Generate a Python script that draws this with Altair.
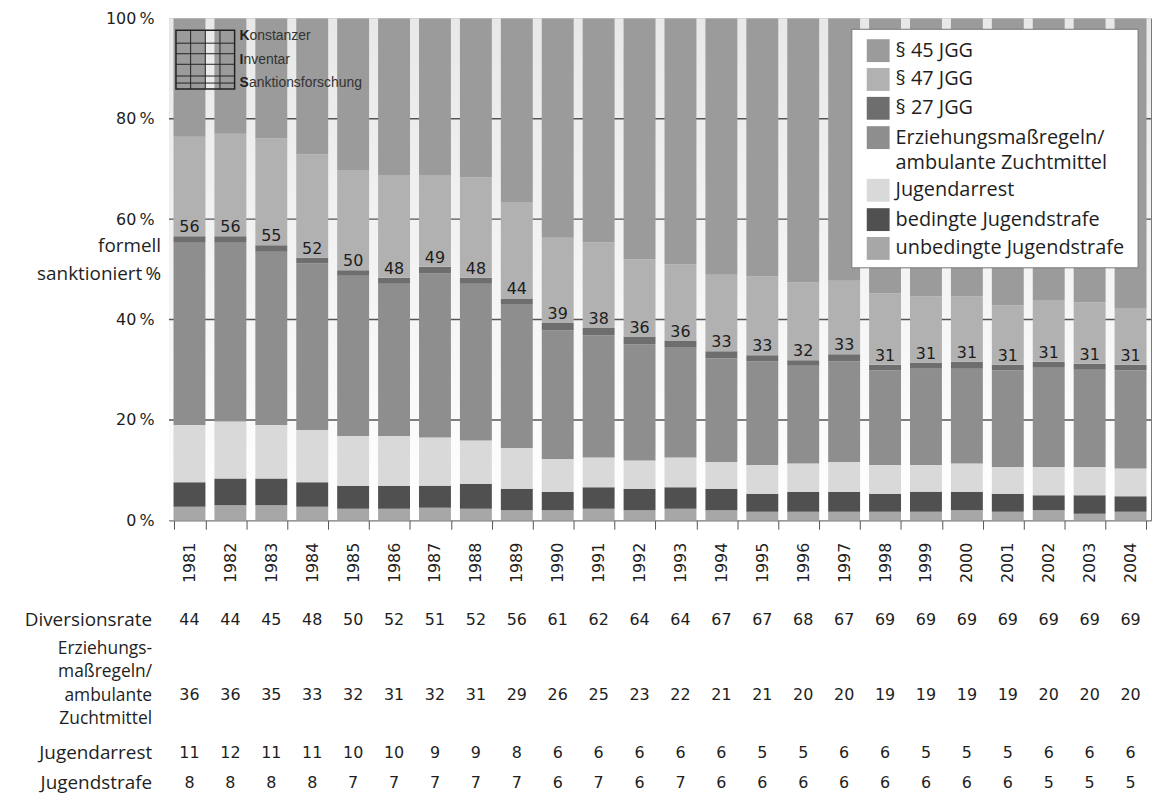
import altair as alt
import pandas as pd

# ---------------- data ----------------
years = list(range(1981, 2005))

cats = ["§ 45 JGG", "§ 47 JGG", "§ 27 JGG",
        "Erziehungsmaßregeln/ambulante Zuchtmittel",
        "Jugendarrest", "bedingte Jugendstrafe", "unbedingte Jugendstrafe"]
legend_text = ["§ 45 JGG", "§ 47 JGG", "§ 27 JGG",
               "Erziehungsmaßregeln/\nambulante Zuchtmittel",
               "Jugendarrest", "bedingte Jugendstrafe", "unbedingte Jugendstrafe"]
colors = ["#9b9b9b", "#b1b1b1", "#6e6e6e", "#8e8e8e", "#d9d9d9", "#505050", "#a7a7a7"]

unbedingte = [2.7, 3.0, 3.0, 2.7, 2.3, 2.3, 2.5, 2.3, 2.0, 2.0, 2.3, 2.0, 2.3, 2.0, 1.7, 1.7, 1.7, 1.7, 1.7, 2.0, 1.7, 2.0, 1.3, 1.7]
bedingte = [4.9, 5.3, 5.3, 4.9, 4.6, 4.6, 4.4, 5.0, 4.3, 3.7, 4.3, 4.3, 4.3, 4.3, 3.6, 4.0, 4.0, 3.6, 4.0, 3.7, 3.6, 3.0, 3.7, 3.1]
arrest = [11.4, 11.4, 10.7, 10.4, 9.9, 9.9, 9.6, 8.6, 8.1, 6.5, 5.9, 5.6, 5.9, 5.3, 5.7, 5.6, 5.9, 5.7, 5.3, 5.6, 5.3, 5.6, 5.6, 5.5]
erziehung = [36.3, 35.6, 34.5, 33.2, 31.9, 30.3, 32.7, 31.2, 28.7, 25.6, 24.3, 23.1, 22.0, 20.7, 20.7, 19.5, 20.1, 18.9, 19.2, 18.9, 19.3, 19.8, 19.4, 19.6]
p27 = [1.3, 1.3, 1.3, 1.1, 1.1, 1.2, 1.3, 1.2, 1.1, 1.5, 1.5, 1.6, 1.3, 1.4, 1.2, 1.1, 1.4, 1.1, 1.2, 1.4, 1.1, 1.2, 1.2, 1.1]
p47 = [19.8, 20.4, 21.3, 20.6, 20.0, 20.5, 18.3, 20.0, 19.2, 17.0, 17.1, 15.4, 15.2, 15.2, 15.7, 15.5, 14.6, 14.2, 13.2, 13.0, 11.8, 12.3, 12.2, 11.3]
p45 = [23.6, 23.0, 23.9, 27.1, 30.2, 31.2, 31.2, 31.7, 36.6, 43.7, 44.6, 48.0, 49.0, 51.1, 51.4, 52.6, 52.3, 54.8, 55.4, 55.4, 57.2, 56.1, 56.6, 57.7]

formell = [56, 56, 55, 52, 50, 48, 49, 48, 44, 39, 38, 36, 36, 33, 33, 32, 33, 31, 31, 31, 31, 31, 31, 31]

diversion_tab = [44, 44, 45, 48, 50, 52, 51, 52, 56, 61, 62, 64, 64, 67, 67, 68, 67, 69, 69, 69, 69, 69, 69, 69]
erz_tab = [36, 36, 35, 33, 32, 31, 32, 31, 29, 26, 25, 23, 22, 21, 21, 20, 20, 19, 19, 19, 19, 20, 20, 20]
arrest_tab = [11, 12, 11, 11, 10, 10, 9, 9, 8, 6, 6, 6, 6, 6, 5, 5, 6, 6, 5, 5, 5, 6, 6, 6]
strafe_tab = [8, 8, 8, 8, 7, 7, 7, 7, 7, 6, 7, 6, 7, 6, 6, 6, 6, 6, 6, 6, 6, 5, 5, 5]

# ---------------- tables ----------------
series_bottom_up = [
    ("unbedingte Jugendstrafe", unbedingte),
    ("bedingte Jugendstrafe", bedingte),
    ("Jugendarrest", arrest),
    ("Erziehungsmaßregeln/ambulante Zuchtmittel", erziehung),
    ("§ 27 JGG", p27),
    ("§ 47 JGG", p47),
    ("§ 45 JGG", p45),
]
rows = []
for order, (name, vals) in enumerate(series_bottom_up):
    for y, v in zip(years, vals):
        rows.append({"year": y, "cat": name, "value": v, "ord": order})
bars_df = pd.DataFrame(rows)

top27 = [a + b + c + d + e for a, b, c, d, e in zip(unbedingte, bedingte, arrest, erziehung, p27)]
lab_df = pd.DataFrame({"year": years, "top": top27, "label": formell})

W, H = 988, 505
FONT_TXT = "Open Sans"
FONT_NUM = "DejaVu Sans"
TXT = "#1e1e1e"
TS = 19  # text size for words

x_enc = alt.X("year:O",
              scale=alt.Scale(paddingInner=0.22, paddingOuter=0.11),
              axis=alt.Axis(title=None, labelAngle=270, labelAlign="right", labelBaseline="middle",
                            labelFont=FONT_NUM, labelFontSize=16, labelColor=TXT, labelPadding=13,
                            tickBand="extent", tickSize=9, tickColor="#555", domainColor="#666"))

one = pd.DataFrame({"a": [0]})

bg = alt.Chart(one).mark_rect(
    fill=alt.Gradient(gradient="linear",
                      stops=[alt.GradientStop(color="#e8e8e8", offset=0),
                             alt.GradientStop(color="#ffffff", offset=1)],
                      x1=0, x2=0, y1=0, y2=1)
).encode(x=alt.value(0), x2=alt.value(W), y=alt.value(0), y2=alt.value(H))

grid = alt.Chart(pd.DataFrame({"g": [20, 40, 60, 80]})).mark_rule(
    color="#555", strokeWidth=1.5
).encode(y=alt.Y("g:Q", scale=alt.Scale(domain=[0, 100], nice=False)))

bars = alt.Chart(bars_df).mark_bar(clip=True).encode(
    x=x_enc,
    y=alt.Y("value:Q", stack=True,
            scale=alt.Scale(domain=[0, 100], nice=False),
            axis=alt.Axis(title=None, values=[0, 20, 40, 60, 80, 100],
                          labelExpr="datum.value + '\u2009%'", ticks=False, labelPadding=15,
                          labelFont=FONT_NUM, labelFontSize=16, labelColor=TXT,
                          domainColor="#666", grid=False)),
    color=alt.Color("cat:N", scale=alt.Scale(domain=cats, range=colors), legend=None),
    order=alt.Order("ord:Q", sort="ascending"),
)

labels = alt.Chart(lab_df).mark_text(
    font=FONT_NUM, fontSize=16, color=TXT, baseline="alphabetic", dy=-4
).encode(x=alt.X("year:O"), y=alt.Y("top:Q"), text="label:Q")

formell_txt = alt.Chart(one).mark_text(
    align="right", baseline="middle", font=FONT_TXT, fontSize=TS, color=TXT,
    lineBreak="\n", lineHeight=28
).encode(x=alt.value(-8), y=alt.datum(54.6), text=alt.value("formell\nsanktioniert\u2009%"))

# ---- legend box (drawn as marks) ----
leg = [alt.Chart(one).mark_rect(fill="white", stroke="#777", strokeWidth=1).encode(
    x=alt.value(687), x2=alt.value(975), y=alt.value(11), y2=alt.value(251))]
leg_rows = [32.5, 61.5, 90.5, 120, 173, 202.5, 231.5]
for name, col, txt, yy in zip(cats, colors, legend_text, leg_rows):
    leg.append(alt.Chart(one).mark_rect(fill=col).encode(
        x=alt.value(702), x2=alt.value(725), y=alt.value(yy - 11.5), y2=alt.value(yy + 11.5)))
    leg.append(alt.Chart(one).mark_text(
        align="left", baseline="middle", font=FONT_TXT, fontSize=20, color=TXT,
        lineBreak="\n", lineHeight=26
    ).encode(x=alt.value(731), y=alt.value(yy), text=alt.value(txt)))

# ---- logo (decoration) ----
LX0, LY0, LS = 7, 12, 59
logo = [alt.Chart(one).mark_rect(fillOpacity=0, stroke="#222", strokeWidth=1.5).encode(
    x=alt.value(LX0), x2=alt.value(LX0 + LS), y=alt.value(LY0), y2=alt.value(LY0 + LS))]
for f in [0.22, 0.4, 0.58, 0.78, 0.9]:
    logo.append(alt.Chart(one).mark_rule(color="#222", strokeWidth=1).encode(
        x=alt.value(LX0), x2=alt.value(LX0 + LS), y=alt.value(LY0 + f * LS)))
for f in [0.25, 0.5, 0.75]:
    logo.append(alt.Chart(one).mark_rule(color="#222", strokeWidth=1).encode(
        y=alt.value(LY0), y2=alt.value(LY0 + LS), x=alt.value(LX0 + f * LS)))
logo_words = [("K", "onstanzer", 18), ("I", "nventar", 42), ("S", "anktionsforschung", 65)]
for first, rest, yy in logo_words:
    logo.append(alt.Chart(one).mark_text(align="left", baseline="middle", font="Liberation Sans",
                                         fontSize=14, fontWeight="bold", color="#222").encode(
        x=alt.value(71), y=alt.value(yy), text=alt.value(first)))
    off = {"K": 10, "I": 4, "S": 9.5}[first]
    logo.append(alt.Chart(one).mark_text(align="left", baseline="middle", font="Liberation Sans",
                                         fontSize=14, color="#333").encode(
        x=alt.value(71 + off), y=alt.value(yy), text=alt.value(rest)))

# ---- table below the chart ----
table_rows = [(diversion_tab, 605), (erz_tab, 681), (arrest_tab, 739), (strafe_tab, 769)]
table_layers = []
for vals, ypos in table_rows:
    df = pd.DataFrame({"year": years, "v": vals})
    table_layers.append(alt.Chart(df).mark_text(
        font=FONT_NUM, fontSize=16, color=TXT, baseline="middle"
    ).encode(x=alt.X("year:O"), y=alt.value(ypos), text="v:Q"))

row_labels = [("Diversionsrate", 605, TS), ("Jugendarrest", 739, TS), ("Jugendstrafe", 769, TS),
              ("Erziehungs-", 634.5, 17.5), ("maßregeln/", 658, 17.5),
              ("ambulante", 681.5, 17.5), ("Zuchtmittel", 705, 17.5)]
for txt, ypos, fs in row_labels:
    table_layers.append(alt.Chart(one).mark_text(
        align="right", baseline="middle", font=FONT_TXT, fontSize=fs, color=TXT
    ).encode(x=alt.value(-17), y=alt.value(ypos), text=alt.value(txt)))

chart = alt.layer(bg, grid, bars, labels, formell_txt, *logo, *leg, *table_layers).properties(
    width=W, height=H,
    padding={"left": 162, "top": 8, "right": 2, "bottom": 276},
    autosize=alt.AutoSizeParams(type="none"),
).configure_view(stroke="#777", strokeWidth=1)

chart.save("out.html", embed_options={"renderer": "svg", "actions": False})
